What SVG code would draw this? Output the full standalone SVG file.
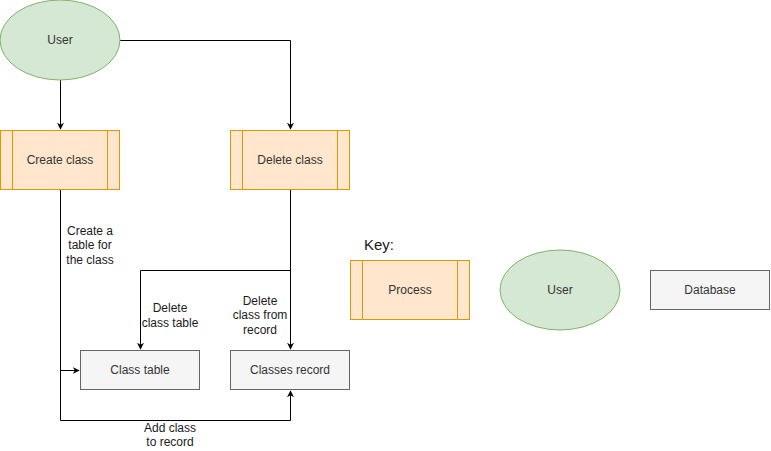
<svg xmlns="http://www.w3.org/2000/svg" width="771" height="451" viewBox="0 0 771 451">
<style>
text{font-family:"Liberation Sans",Arial,sans-serif;font-size:12px}
.n{fill:#333333;text-anchor:middle;dominant-baseline:central}
.l{fill:#1a1a1a;text-anchor:middle}
.proc{fill:#ffe6cc;stroke:#d79b00;stroke-width:1}
.user{fill:#d5e8d4;stroke:#82b366;stroke-width:1}
.db{fill:#f5f5f5;stroke:#666666;stroke-width:1}
.e{fill:none;stroke:#000;stroke-width:1}
</style>
<defs>
<marker id="a" viewBox="0 0 10 10" refX="9" refY="5" markerWidth="7" markerHeight="7" orient="auto" markerUnits="userSpaceOnUse">
<path d="M0,0 L10,5 L0,10 L3,5 Z" fill="#000"/>
</marker>
</defs>
<rect width="771" height="451" fill="#fff"/>
<g id="connectors">
<path class="e" d="M60.5,80 V129" marker-end="url(#a)"/>
<path class="e" d="M120,40.5 H290.5 V129" marker-end="url(#a)"/>
<path class="e" d="M290.5,190 V270.5 H140.5 V349" marker-end="url(#a)"/>
<path class="e" d="M290.5,270 V349" marker-end="url(#a)"/>
<path class="e" d="M60.5,190 V370.5 H79" marker-end="url(#a)"/>
<path class="e" d="M60.5,370 V420.5 H290.5 V391" marker-end="url(#a)"/>
<text class="l" x="90" y="235">Create a</text>
<text class="l" x="90" y="249">table for</text>
<text class="l" x="90" y="264">the class</text>
<text class="l" x="170" y="312">Delete</text>
<text class="l" x="170" y="327">class table</text>
<text class="l" x="260" y="305">Delete</text>
<text class="l" x="260" y="319">class from</text>
<text class="l" x="260" y="334">record</text>
<text class="l" x="170" y="432">Add class</text>
<text class="l" x="170" y="446">to record</text>
</g>
<g id="user">
<ellipse class="user" cx="60" cy="40" rx="60" ry="40"/>
<text class="n" x="60" y="40">User</text>
</g>
<g id="create-class">
<rect class="proc" x="0.5" y="130.5" width="119" height="59"/>
<path class="proc" d="M12.5,130.5 V189.5 M107.5,130.5 V189.5" fill="none"/>
<text class="n" x="60" y="160">Create class</text>
</g>
<g id="delete-class">
<rect class="proc" x="230.5" y="130.5" width="119" height="59"/>
<path class="proc" d="M242.5,130.5 V189.5 M337.5,130.5 V189.5" fill="none"/>
<text class="n" x="290" y="160">Delete class</text>
</g>
<g id="class-table">
<rect class="db" x="80.5" y="350.5" width="119" height="39"/>
<text class="n" x="140" y="370">Class table</text>
</g>
<g id="classes-record">
<rect class="db" x="230.5" y="350.5" width="119" height="39"/>
<text class="n" x="290" y="370">Classes record</text>
</g>
<g id="key">
<text x="364" y="250" style="font-size:15px;fill:#1a1a1a">Key:</text>
</g>
<g id="key-process">
<rect class="proc" x="350.5" y="260.5" width="119" height="59"/>
<path class="proc" d="M362.5,260.5 V319.5 M457.5,260.5 V319.5" fill="none"/>
<text class="n" x="410" y="290">Process</text>
</g>
<g id="key-user">
<ellipse class="user" cx="560" cy="290" rx="60" ry="40"/>
<text class="n" x="560" y="290">User</text>
</g>
<g id="key-database">
<rect class="db" x="650.5" y="270.5" width="119" height="39"/>
<text class="n" x="710" y="290">Database</text>
</g>
</svg>
